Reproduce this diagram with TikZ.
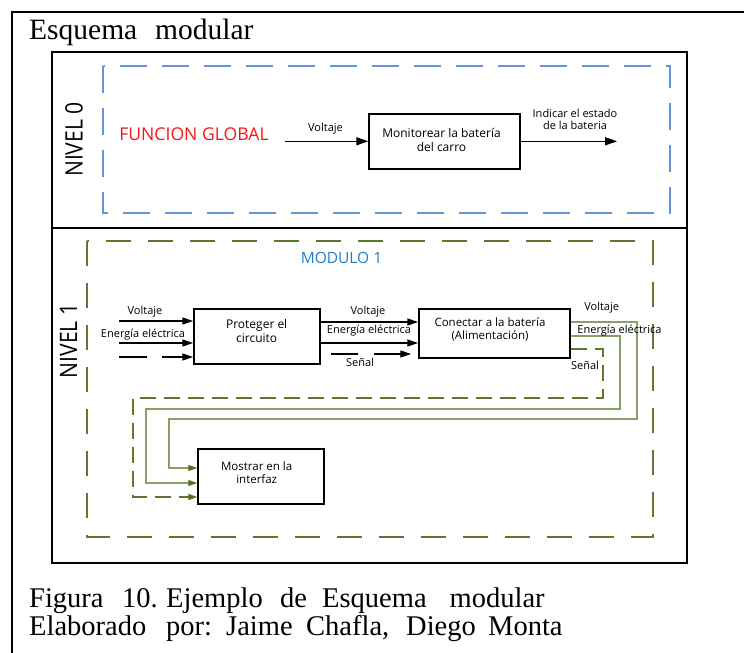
\documentclass[tikz,border=0pt]{standalone}
\usepackage{fontspec}
\usepackage{graphicx}
\setmainfont{Liberation Serif}
\newfontfamily\osans{Open Sans}
\usetikzlibrary{arrows.meta}
\definecolor{bluedash}{RGB}{100,150,215}
\definecolor{olivedash}{RGB}{95,120,45}
\definecolor{oliveline}{RGB}{135,160,100}
\definecolor{olivehead}{RGB}{85,110,35}
\definecolor{modblue}{RGB}{30,125,200}
\definecolor{funcred}{RGB}{250,20,20}
\begin{document}
\begin{tikzpicture}[x=1pt,y=-1pt,
  blk/.style={draw=black, line width=1.5pt, inner sep=0pt, fill=white},
  btxt/.style={font=\osans\fontsize{12}{14}\selectfont, inner sep=0pt, align=center},
  lbl/.style={font=\osans\fontsize{11}{13}\selectfont, inner sep=0pt, align=center},
  arrz/.style={line width=1.5pt, -{Triangle[length=12pt,width=8pt]}},
  arro/.style={line width=1.4pt, -{Triangle[length=11pt,width=7pt]}},
  gline/.style={draw=oliveline, line width=1.3pt, -{Triangle[length=9pt,width=6pt,color=olivehead]}},
  gsig/.style={draw=olivedash, line width=1.3pt, dash pattern=on 16pt off 8pt, -{Triangle[length=9pt,width=6pt,color=olivehead]}},
  hdr/.style={font=\fontsize{29.5}{33}\selectfont, inner sep=0pt, anchor=base west},
  captxt/.style={font=\fontsize{28.5}{32}\selectfont, inner sep=0pt, anchor=base west},
  nivel/.style={font=\osans\fontsize{24}{26}\selectfont, inner sep=0pt, rotate=90}
]
\useasboundingbox (0,0) rectangle (744,653);
% outer frame
\draw[line width=2.5pt] (12,653) -- (12,12) -- (744,12);
% header
\node[hdr] (h1) at (29,39.3) {Esquema};
\node[hdr] (h2) at (155,39.3) {modular};
% inner frame
\draw[line width=2.8pt] (52,52) rectangle (687,563);
\draw[line width=2pt] (52,228) -- (687,228);
% ---------- Nivel 0 ----------
\draw[bluedash, line width=2pt, dash pattern=on 27pt off 15pt] (102.7,65.7) rectangle (670,213.3);
\node[nivel] (niv0) at (74,139.5) {\scalebox{0.88}[1]{NIVEL 0}};
\node[font=\osans\fontsize{17.6}{19}\selectfont, text=funcred, inner sep=0pt] (fg) at (194,134.5) {FUNCION GLOBAL};
\node[blk, minimum width=151pt, minimum height=55pt] (mon) at (444.5,141.3) {};
\node[btxt] (mont) at (441.5,140) {Monitorear la batería\\del carro};
\coordinate (n0in) at (285,141.3);
\coordinate (n0out) at (617,141.3);
\draw[arrz] (n0in) -- (mon.west);
\draw[arrz] (mon.east) -- (n0out);
\node[lbl] (lv0) at (325.5,129) {Voltaje};
\node[lbl, font=\osans\fontsize{11}{11.5}\selectfont] (lind) at (575,119.5) {Indicar el estado\\de la bateria};
% ---------- Nivel 1 ----------
\draw[olivedash, line width=1.8pt, dash pattern=on 25pt off 17pt] (87,241) rectangle (653,537);
\node[nivel] (niv1) at (68.5,341) {\scalebox{0.88}[1]{NIVEL 1}};
\node[font=\osans\fontsize{15.5}{17}\selectfont, text=modblue, inner sep=0pt] (mod) at (341.5,258) {MODULO 1};
% boxes
\node[blk, minimum width=126pt, minimum height=55pt] (pro) at (257,336.5) {};
\node[btxt] (prot) at (256.7,331) {Proteger el\\circuito};
\node[blk, minimum width=151pt, minimum height=49pt] (con) at (494.5,333.5) {};
\node[btxt, font=\osans\fontsize{11.5}{13}\selectfont] (cont) at (490,329.5) {Conectar a la batería\\(Alimentación)};
\node[blk, minimum width=126pt, minimum height=55pt] (mos) at (261,476.5) {};
\node[btxt, font=\osans\fontsize{11.5}{13}\selectfont] (most) at (256.7,472.5) {Mostrar en la\\interfaz};
% inputs to pro
\coordinate (i1) at (119,321);
\coordinate (i2) at (119,343);
\coordinate (i3) at (119,357);
\draw[arro] (i1) -- ([yshift=15.5pt]pro.west);
\draw[arro] (i2) -- ([yshift=-6.5pt]pro.west);
\draw[arro, dash pattern=on 28pt off 15pt] (i3) -- ([yshift=-20.5pt]pro.west);
\node[lbl] (lv1) at (145,312) {Voltaje};
\node[lbl] (le1) at (143,335) {Energía eléctrica};
% pro to con
\draw[arro] ([yshift=14.5pt]pro.east) -- ([yshift=11.5pt]con.west);
\draw[arro] ([yshift=-6.5pt]pro.east) -- ([yshift=-9.5pt]con.west);
\draw[arro, dash pattern=on 27pt off 16pt] ([xshift=10pt,yshift=-17.5pt]pro.east) -- ([xshift=-7pt,yshift=-20.5pt]con.west);
\node[lbl] (lv2) at (368,312) {Voltaje};
\node[lbl] (le2) at (369,331) {Energía eléctrica};
\node[lbl] (ls2) at (360,362) {Señal};
% con to mos
\coordinate (v1) at (637,419);
\coordinate (v2) at (169,419);
\coordinate (e1) at (620,409);
\coordinate (e2) at (146,409);
\coordinate (s1) at (603,398);
\coordinate (s2) at (133,398);
\draw[gline] ([yshift=11.5pt]con.east) -| (v1) -- (v2) |- ([yshift=8.5pt]mos.west);
\draw[gline] ([yshift=-2.5pt]con.east) -| (e1) -- (e2) |- ([yshift=-6.5pt]mos.west);
\draw[gsig] ([yshift=-15.5pt]con.east) -| (s1) -- (s2) |- ([yshift=-20.5pt]mos.west);
\node[lbl] (lv3) at (601.7,308) {Voltaje};
\node[lbl] (le3) at (619.5,331) {Energía eléctrica};
\node[lbl] (ls3) at (585,365) {Señal};
% ---------- caption ----------
\node[captxt] (c1) at (29,607) {Figura};
\node[captxt] (c2) at (122,607) {10.};
\node[captxt] (c3) at (166,607) {Ejemplo};
\node[captxt] (c4) at (280,607) {de};
\node[captxt] (c5) at (322,607) {Esquema};
\node[captxt] (c6) at (449.5,607) {modular};
\node[captxt] (d1) at (29,635) {Elaborado};
\node[captxt] (d2) at (166,635) {por:};
\node[captxt] (d3) at (226,635) {Jaime};
\node[captxt] (d4) at (306,635) {Chafla,};
\node[captxt] (d5) at (406,635) {Diego};
\node[captxt] (d6) at (488,635) {Monta};
\end{tikzpicture}
\end{document}
